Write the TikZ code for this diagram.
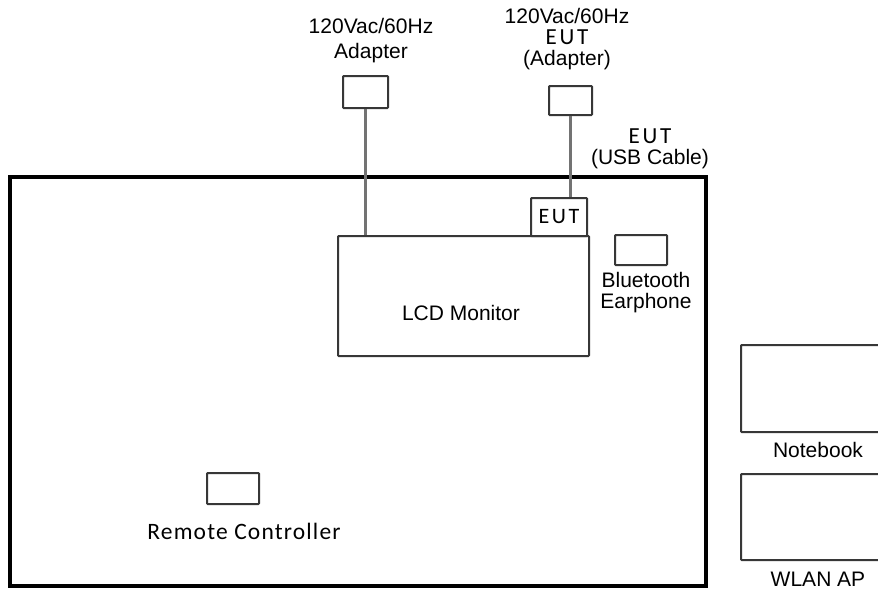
\documentclass[tikz,border=0pt]{standalone}
\usepackage{fontspec}
\setmainfont{Liberation Sans}
\newfontfamily\calfont[LetterSpace=5]{Carlito}
\newfontfamily\eutfont[LetterSpace=12]{Carlito}
\usepackage{xcolor}
\usepackage{tikz}
\usetikzlibrary{positioning}
\definecolor{boxgray}{RGB}{55,55,55}
\definecolor{cablegray}{RGB}{115,115,115}
\newcommand{\eutlabel}{{\eutfont\fontsize{23}{21}\selectfont EUT}}

\begin{document}
\begin{tikzpicture}[x=1pt, y=-1pt,
  every node/.style={font=\fontsize{21}{21}\selectfont, inner sep=0pt, text=black},
  unit/.style={draw=boxgray, line width=2pt, rounded corners=0.8pt, fill=white},
  cable/.style={draw=cablegray, line width=2.2pt},
  lbl/.style={align=center}]
\useasboundingbox (0,0) rectangle (878,590);
% Test area
\draw[line width=3.6pt] (10,177) rectangle (706,586);
% Units
\node[unit, minimum width=45, minimum height=32] (adp1) at (365.5,92) {};
\node[unit, minimum width=43, minimum height=29] (adp2) at (570.5,100.5) {};
\node[unit, minimum width=251, minimum height=120] (lcd) at (463.5,296) {};
\node[unit, minimum width=56, minimum height=38,
      font=\eutfont\fontsize{22}{24}\selectfont] (eut) at (559,217) {EUT};
\node[unit, minimum width=52, minimum height=30] (bt) at (641,250) {};
\node[unit, minimum width=52, minimum height=31] (remote) at (233,488.5) {};
\node[unit, minimum width=149, minimum height=87] (nb) at (815.5,388.5) {};
\node[unit, minimum width=149, minimum height=86] (ap) at (815.5,517) {};
% Cables
\draw[cable] (adp1.south) -- (adp1.south |- lcd.north);
\draw[cable] (adp2.south) -- (adp2.south |- eut.north);
% Labels
\node[lbl, font=\fontsize{21}{25}\selectfont] (adp1lbl) at (371,41) {120Vac/60Hz\\Adapter};
\node[lbl] (adp2lbl) at (567,39) {120Vac/60Hz\\\eutlabel\\(Adapter)};
\node[lbl] (usblbl) at (650,149) {\eutlabel\\(USB Cable)};
\node[lbl] (lcdlbl) at (461,313) {LCD Monitor};
\node[lbl] (btlbl) at (646,293) {Bluetooth\\Earphone};
\node[lbl] (nblbl) at (818,450) {Notebook};
\node[lbl] (aplbl) at (818,579) {WLAN AP};
\node[lbl, font=\calfont\fontsize{23.5}{25}\selectfont] (remotelbl) at (244,531) {Remote Controller};
\end{tikzpicture}
\end{document}
